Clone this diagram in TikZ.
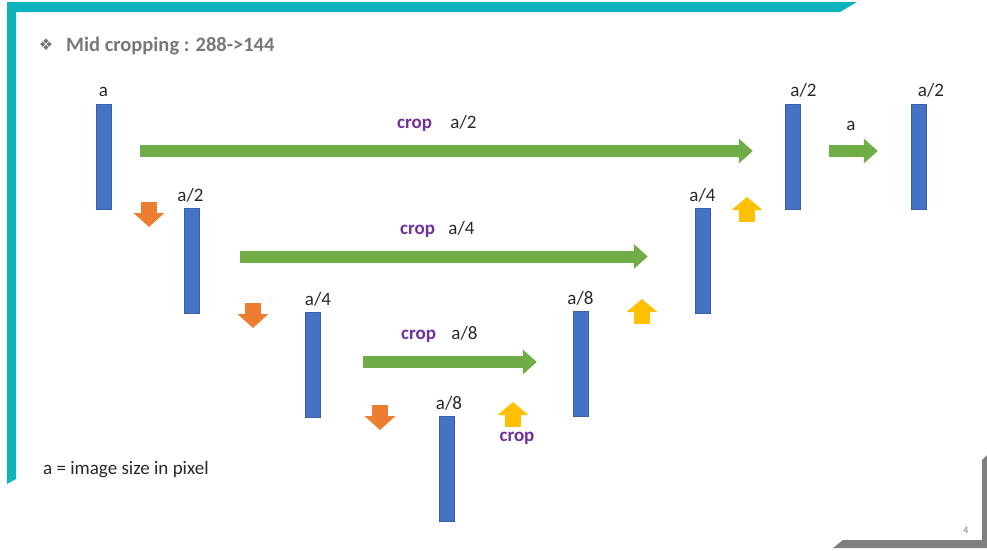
\documentclass[tikz,border=0pt]{standalone}
\usepackage{fontspec}
\setmainfont{Carlito}
\newfontfamily\symfont{DejaVu Sans}
\usetikzlibrary{arrows.meta, positioning}
\definecolor{frameteal}{RGB}{16,178,190}
\definecolor{framegray}{RGB}{127,127,127}
\definecolor{titlegray}{RGB}{120,120,120}
\definecolor{labelgray}{RGB}{40,40,40}
\definecolor{barblue}{RGB}{68,114,196}
\definecolor{skipgreen}{RGB}{112,173,71}
\definecolor{downorange}{RGB}{237,125,49}
\definecolor{upyellow}{RGB}{255,192,0}
\definecolor{cropviolet}{RGB}{112,48,160}
\tikzset{
  bar/.style={rectangle,fill=barblue,draw=barblue!85!black,line width=0.4pt,minimum width=15pt,minimum height=105pt,inner sep=0pt},
  dim/.style={font=\fontsize{19}{19}\selectfont,text=labelgray,inner sep=0pt,text height=12pt,text depth=0pt},
  croplabel/.style={font=\fontsize{19}{19}\selectfont\bfseries,text=cropviolet,inner sep=0pt},
  skiparrow/.style={-{Triangle[width=24pt,length=14pt]},line width=12pt,draw=skipgreen},
  pooldown/.style={-{Triangle[width=30pt,length=14pt]},line width=16pt,draw=downorange},
  cropup/.style={-{Triangle[width=30pt,length=13pt]},line width=16pt,draw=upyellow}
}

\begin{document}
\begin{tikzpicture}[x=1pt,y=-1pt]
\useasboundingbox (0,0) rectangle (987,550);
% slide frame
\fill[frameteal] (7,2) -- (857,2) -- (840,12) -- (16,12) -- (16,479) -- (7,484) -- cycle;
\fill[framegray] (987,455) -- (987,548) -- (833,548) -- (843,540) -- (982,540) -- (982,460) -- cycle;
\node[font=\fontsize{10}{10}\selectfont,text=titlegray,inner sep=0pt,anchor=base] (page) at (966,533) {4};
% title
\node[font=\symfont\fontsize{16}{16}\selectfont,text=titlegray,inner sep=0pt] (bullet) at (46,45) {❖};
\node[font=\fontsize{20.5}{20.5}\selectfont\bfseries,text=titlegray,inner sep=0pt,anchor=base west] (title) at (66,51) {Mid cropping : 288->144};
% feature maps
\node[bar] (enc1) at (103.5,156.5) {};
\node[bar] (enc2) at (191.5,261) {};
\node[bar] (enc3) at (312.5,365) {};
\node[bar] (neck) at (446.5,469) {};
\node[bar] (dec3) at (580.5,364) {};
\node[bar] (dec2) at (702.5,261) {};
\node[bar] (dec1) at (792.5,156.5) {};
\node[bar] (out) at (918.5,156.5) {};
\node[dim, above=7pt of enc1] (lenc1) {a};
\node[dim, above=7pt of enc2, xshift=-1pt] (lenc2) {a/2};
\node[dim, above=7pt of enc3, xshift=5.5pt] (lenc3) {a/4};
\node[dim, above=7pt of neck, xshift=2.5pt] (lneck) {a/8};
\node[dim, above=7pt of dec3] (ldec3) {a/8};
\node[dim, above=7pt of dec2] (ldec2) {a/4};
\node[dim, above=7pt of dec1, xshift=11pt] (ldec1) {a/2};
\node[dim, above=7pt of out, xshift=12.5pt] (lout) {a/2};
% skip connections
\draw[skiparrow] ([xshift=29pt,yshift=5.5pt]enc1.east) -- ([xshift=-32pt,yshift=5.5pt]dec1.west);
\draw[skiparrow] ([xshift=41pt,yshift=4.5pt]enc2.east) -- ([xshift=-47pt,yshift=4.5pt]dec2.west);
\draw[skiparrow] ([xshift=43pt,yshift=3pt]enc3.east) -- ([xshift=-36pt,yshift=2pt]dec3.west);
\draw[skiparrow] ([xshift=29pt,yshift=5.5pt]dec1.east) -- ([xshift=-33pt,yshift=5.5pt]out.west);
\node[croplabel, anchor=base west] (crop1) at (397,128) {crop};
\node[dim, base right=18pt of crop1] (dcrop1) {a/2};
\node[croplabel, anchor=base west] (crop2) at (400,234) {crop};
\node[dim, base right=13pt of crop2] (dcrop2) {a/4};
\node[croplabel, anchor=base west] (crop3) at (401,339) {crop};
\node[dim, base right=15pt of crop3] (dcrop3) {a/8};
\node[dim, anchor=base] (dout) at (851,130) {a};
% down and up steps
\draw[pooldown] (149,202) -- (149,227);
\draw[pooldown] (253,303) -- (253,328);
\draw[pooldown] (380,405) -- (380,430);
\draw[cropup] (513,427) -- (513,402);
\draw[cropup] (642,324) -- (642,299);
\draw[cropup] (747,222) -- (747,197);
\node[croplabel, anchor=base] (crop4) at (517,441) {crop};
% legend
\node[font=\fontsize{19}{19}\selectfont,text=labelgray,inner sep=0pt,anchor=base west] (legend) at (43,474) {a = image size in pixel};
\end{tikzpicture}
\end{document}
